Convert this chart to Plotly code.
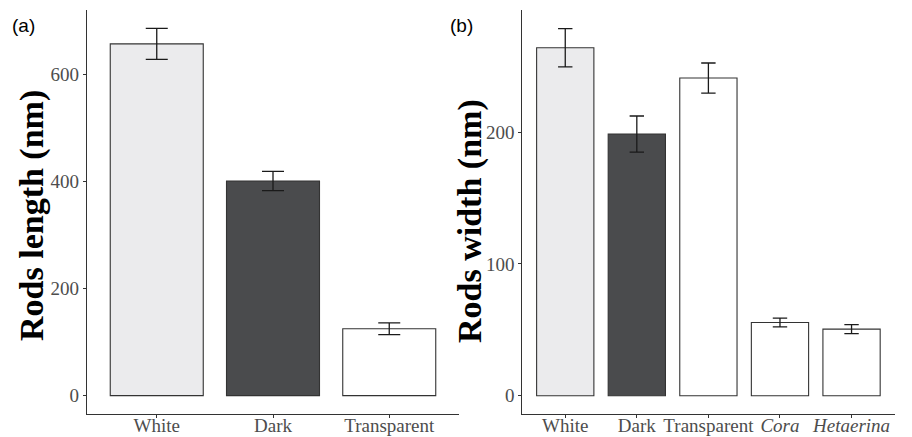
import plotly.graph_objects as go

# ---- data ----
cats_a = ["White", "Dark", "Transparent"]
length_mean = [657, 401, 125]
length_err = [29, 18, 11]

cats_b = ["White", "Dark", "Transparent", "Cora", "Hetaerina"]
width_mean = [264, 198.5, 241, 55.5, 50.5]
width_err = [14.5, 13.7, 11.4, 3.3, 3.4]
ticktext_b = ["White", "Dark", "Transparent", "<i>Cora</i>", "<i>Hetaerina</i>"]

fill_a = ["#EBEBED", "#4A4B4D", "#FFFFFF"]
fill_b = ["#EBEBED", "#4A4B4D", "#FFFFFF", "#FFFFFF", "#FFFFFF"]

ticks_a = [0, 200, 400, 600]
ticks_b = [0, 100, 200]

W, H = 912, 437
SERIF = "Liberation Serif, Times New Roman, serif"
SANS = "Liberation Sans, Arial, sans-serif"
AXCOL = "#333333"
TICKCOL = "#4D4D4D"

fig = go.Figure()
fig.add_trace(go.Bar(
    x=cats_a, y=length_mean, width=0.8,
    marker=dict(color=fill_a, line=dict(color=AXCOL, width=1.1)),
    error_y=dict(type="data", array=length_err, color="#1A1A1A", thickness=1.3, width=11),
    xaxis="x", yaxis="y", showlegend=False, hoverinfo="x+y",
))
fig.add_trace(go.Bar(
    x=cats_b, y=width_mean, width=0.8,
    marker=dict(color=fill_b, line=dict(color=AXCOL, width=1.1)),
    error_y=dict(type="data", array=width_err, color="#1A1A1A", thickness=1.3, width=7.2),
    xaxis="x2", yaxis="y2", showlegend=False, hoverinfo="x+y",
))

ydom = [(H - 414) / H, (H - 10) / H]
common_x = dict(showline=True, linecolor=AXCOL, linewidth=1.2, ticks="outside",
                ticklen=3, tickcolor=AXCOL, tickwidth=1.1, showgrid=False, zeroline=False,
                automargin=False, ticklabelstandoff=-9,
                tickfont=dict(family=SERIF, size=19, color=TICKCOL), type="category")
common_y = dict(showline=True, linecolor=AXCOL, linewidth=1.2, ticks="outside",
                ticklen=3, tickcolor=AXCOL, tickwidth=1.1, showgrid=False, zeroline=False,
                automargin=False,
                tickfont=dict(family=SERIF, size=19, color=TICKCOL), domain=ydom)

fig.update_layout(
    width=W, height=H, autosize=False,
    margin=dict(l=0, r=0, t=0, b=0),
    paper_bgcolor="white", plot_bgcolor="white",
    xaxis=dict(domain=[87 / W, 459 / W], range=[-0.6, len(cats_a) - 0.4],
               anchor="y", **common_x),
    yaxis=dict(range=[-34.3, 720.3], tickvals=ticks_a, anchor="x", **common_y),
    xaxis2=dict(domain=[522.3 / W, 894.5 / W], range=[-0.6, len(cats_b) - 0.4],
                tickvals=cats_b, ticktext=ticktext_b, anchor="y2", **common_x),
    yaxis2=dict(range=[-13.9, 292.6], tickvals=ticks_b, anchor="x2", **common_y),
    annotations=[
        dict(text="<b>Rods length (nm)</b>", textangle=-90, x=32 / W, y=(H - 216) / H,
             xref="paper", yref="paper", showarrow=False, xanchor="center", yanchor="middle",
             font=dict(family=SERIF, size=34, color="#000000")),
        dict(text="<b>Rods width (nm)</b>", textangle=-90, x=470 / W, y=(H - 221) / H,
             xref="paper", yref="paper", showarrow=False, xanchor="center", yanchor="middle",
             font=dict(family=SERIF, size=34, color="#000000")),
        dict(text="(a)", x=23 / W, y=(H - 25) / H, xref="paper", yref="paper",
             showarrow=False, xanchor="center", yanchor="middle",
             font=dict(family=SANS, size=19, color="#000000")),
        dict(text="(b)", x=462 / W, y=(H - 25) / H, xref="paper", yref="paper",
             showarrow=False, xanchor="center", yanchor="middle",
             font=dict(family=SANS, size=19, color="#000000")),
    ],
)

html = fig.to_html(full_html=True, include_plotlyjs=True,
                   config={"displayModeBar": False, "responsive": False})
html = html.replace("<head>", "<head><style>html,body{margin:0;padding:0;overflow:hidden;}</style>", 1)
with open("out.html", "w", encoding="utf-8") as f:
    f.write(html)
